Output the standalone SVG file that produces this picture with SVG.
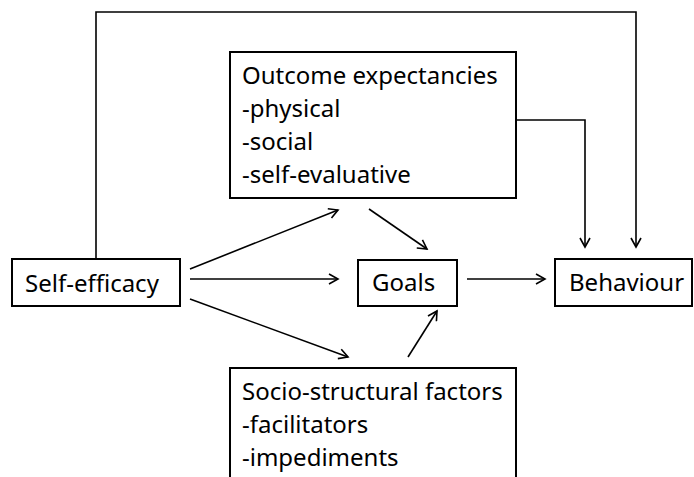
<svg xmlns="http://www.w3.org/2000/svg" width="694" height="477" viewBox="0 0 694 477">
<defs>
<style>
.box{fill:#fff;stroke:#000;stroke-width:2}
.t{font-family:"Noto Sans","Liberation Sans",sans-serif;font-size:24px;fill:#000}
.c{fill:none;stroke:#000;stroke-width:1.6}
</style>
<marker id="arr" markerWidth="12" markerHeight="12" refX="10" refY="6" orient="auto" markerUnits="userSpaceOnUse">
<path d="M1,1 L10,6 L1,11" fill="none" stroke="#000" stroke-width="1.6"/>
</marker>
</defs>
<g id="connectors">
<path class="c" d="M96,259 V12 H636 V247" marker-end="url(#arr)"/>
<path class="c" d="M516,120 H585 V247" marker-end="url(#arr)"/>
<path class="c" d="M190,269 L338,210" marker-end="url(#arr)"/>
<path class="c" d="M190,279 L338,279" marker-end="url(#arr)"/>
<path class="c" d="M190,299 L348,357" marker-end="url(#arr)"/>
<path class="c" d="M369,209 L427,249" marker-end="url(#arr)"/>
<path class="c" d="M408,357 L437,311" marker-end="url(#arr)"/>
<path class="c" d="M467,279 L545,279" marker-end="url(#arr)"/>
</g>
<g id="self-efficacy">
<rect class="box" x="12" y="259" width="168" height="47"/>
<text class="t" x="25" y="292">Self-efficacy</text>
</g>
<g id="outcome-expectancies">
<rect class="box" x="230" y="52" width="286" height="146"/>
<text class="t" x="242" y="84">Outcome expectancies</text>
<text class="t" x="242" y="117">-physical</text>
<text class="t" x="242" y="150">-social</text>
<text class="t" x="242" y="183">-self-evaluative</text>
</g>
<g id="goals">
<rect class="box" x="358" y="260" width="99" height="46"/>
<text class="t" x="372" y="291">Goals</text>
</g>
<g id="behaviour">
<rect class="box" x="555" y="259" width="137" height="47"/>
<text class="t" x="569" y="291">Behaviour</text>
</g>
<g id="socio-structural-factors">
<rect class="box" x="230" y="368" width="286" height="120"/>
<text class="t" x="242" y="400">Socio-structural factors</text>
<text class="t" x="242" y="433">-facilitators</text>
<text class="t" x="242" y="466">-impediments</text>
</g>
</svg>
